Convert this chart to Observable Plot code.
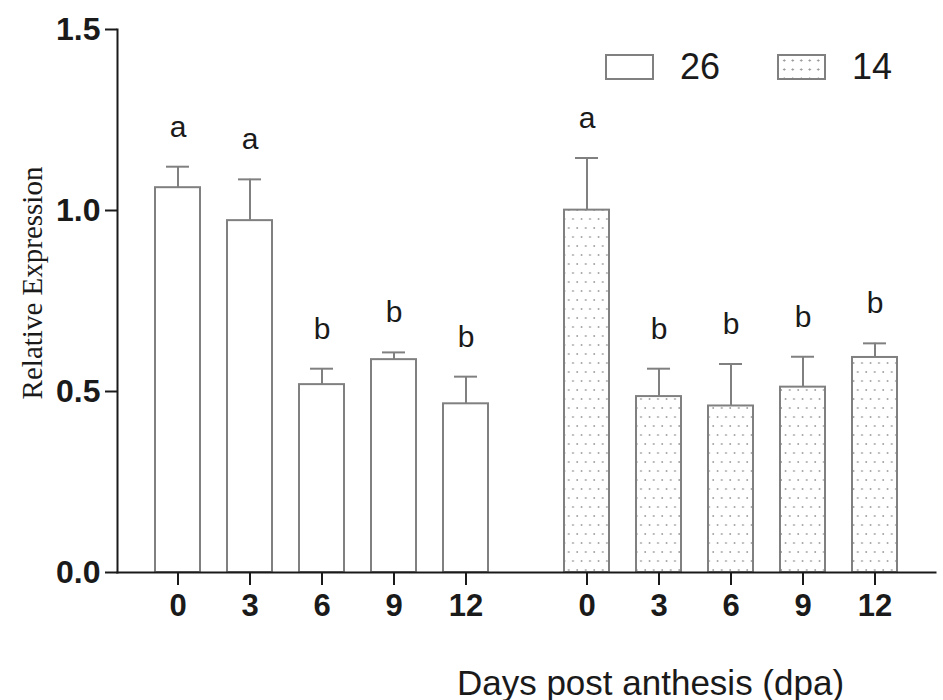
<!DOCTYPE html>
<html>
<head>
<meta charset="utf-8">
<script src="https://cdn.jsdelivr.net/npm/d3@7"></script>
<script src="https://cdn.jsdelivr.net/npm/@observablehq/plot@0.6"></script>
<style>
  html, body { margin: 0; padding: 0; background: white; }
  #wrap { position: relative; width: 943px; height: 700px; font-family: "Liberation Sans", Arial, sans-serif; }
  .legend { position: absolute; top: 0; left: 0; }
  .lg-box { position: absolute; width: 49px; height: 26px; box-sizing: border-box; border: 2px solid #808080; background: white; }
  .lg-box.dots { background-color: white; background-image: radial-gradient(circle, #9a9a9a 0.9px, rgba(255,255,255,0) 1.3px); background-size: 8.5px 9px; background-position: 1px 0px; }
  .lg-text { position: absolute; font-size: 36px; line-height: 36px; color: #1a1a1a; }
</style>
</head>
<body>
<div id="wrap">
  <div class="legend" id="legend"></div>
</div>
<script>
// ---- data ----
const groups = ["26", "14"];
const days = [0, 3, 6, 9, 12];
const mean26 = [1.063, 0.972, 0.519, 0.588, 0.466];
const err26  = [0.058, 0.114, 0.044, 0.020, 0.075];
const mean14 = [1.001, 0.486, 0.460, 0.512, 0.594];
const err14  = [0.144, 0.077, 0.116, 0.084, 0.039];
const letters26 = ["a", "a", "b", "b", "b"];
const letters14 = ["a", "b", "b", "b", "b"];
const yTicks = [0, 0.5, 1.0, 1.5];
const xLabel = "Days post anthesis (dpa)";
const yLabel = "Relative Expression";

const rows = [];
days.forEach((d, i) => rows.push({grp: "26", day: d, mean: mean26[i], hi: mean26[i] + err26[i], letter: letters26[i]}));
days.forEach((d, i) => rows.push({grp: "14", day: d, mean: mean14[i], hi: mean14[i] + err14[i], letter: letters14[i]}));

const ink = "#1a1a1a";
const barStroke = "#808080";

const chart = Plot.plot({
  width: 943,
  height: 700,
  marginTop: 29,
  marginBottom: 128,
  marginLeft: 117,
  marginRight: 3,
  style: {fontFamily: "'Liberation Sans', Arial, sans-serif", background: "white", color: ink, overflow: "visible"},
  fx: {domain: groups, paddingInner: 0, paddingOuter: 0.005, align: 0, axis: null, label: null},
  x: {type: "band", domain: days, paddingInner: 0.372, paddingOuter: 0.51},
  y: {domain: [0, 1.5]},
  color: {type: "ordinal", domain: groups, range: ["white", "url(#dots)"]},
  marks: [
    Plot.barY(rows, {fx: "grp", x: "day", y: "mean", fill: "grp", stroke: barStroke, strokeWidth: 2}),
    Plot.ruleX(rows, {fx: "grp", x: "day", y1: "mean", y2: "hi", stroke: barStroke, strokeWidth: 2}),
    Plot.tickY(rows, {fx: "grp", x: "day", y: "hi", stroke: barStroke, strokeWidth: 2, insetLeft: 11, insetRight: 11}),
    Plot.text(rows, {fx: "grp", x: "day", y: "hi", text: "letter", dy: -30, lineAnchor: "bottom", fontSize: 30, fill: ink}),
    Plot.axisX({ticks: days, tickSize: 13, tickPadding: 8, fontSize: 31, fontWeight: "bold", stroke: ink, strokeWidth: 2, label: null}),
    Plot.axisY({ticks: yTicks, tickSize: 12, tickPadding: 5, tickFormat: d => d.toFixed(1), fontSize: 32, fontWeight: "bold", stroke: ink, strokeWidth: 2, label: null}),
    Plot.frame({anchor: "bottom", facet: "super", stroke: ink, strokeWidth: 2}),
    Plot.frame({anchor: "left", facet: "super", stroke: ink, strokeWidth: 2}),
    Plot.text([xLabel], {facet: "super", frameAnchor: "bottom", textAnchor: "middle", dx: 124, dy: 122, lineAnchor: "bottom", fontSize: 35, fill: ink}),
    Plot.text([yLabel], {facet: "super", frameAnchor: "left", textAnchor: "middle", rotate: -90, dx: -76, dy: -18, lineAnchor: "bottom", fontSize: 29, fontFamily: "'Liberation Serif', 'Times New Roman', serif", fill: ink})
  ]
});

// dotted pattern for the 14 group
const svgSel = d3.select(chart.tagName.toLowerCase() === "svg" ? chart : chart.querySelector("svg"));
const pat = svgSel.insert("defs", ":first-child").append("pattern")
  .attr("id", "dots").attr("patternUnits", "userSpaceOnUse")
  .attr("width", 8.5).attr("height", 18);
pat.append("rect").attr("width", 8.5).attr("height", 18).attr("fill", "white");
pat.append("circle").attr("cx", 2.5).attr("cy", 3).attr("r", 0.9).attr("fill", "#9a9a9a");
pat.append("circle").attr("cx", 6.75).attr("cy", 12).attr("r", 0.9).attr("fill", "#9a9a9a");
svgSel.selectAll("[aria-label='x-axis tick label'] text, [aria-label='y-axis tick label'] text").style("font-weight", "bold");

document.getElementById("wrap").appendChild(chart);

// legend (HTML overlay in the upper-right of the plot)
const legend = document.getElementById("legend");
legend.style.zIndex = 2;
const legendItems = [{key: groups[0], cls: "", left: 605}, {key: groups[1], cls: "dots", left: 777}];
legendItems.forEach(it => {
  const box = document.createElement("div");
  box.className = "lg-box " + it.cls;
  box.style.left = it.left + "px";
  box.style.top = "54px";
  legend.appendChild(box);
  const t = document.createElement("div");
  t.className = "lg-text";
  t.textContent = it.key;
  t.style.left = (it.left + 75) + "px";
  t.style.top = "49px";
  legend.appendChild(t);
});
</script>
</body>
</html>
